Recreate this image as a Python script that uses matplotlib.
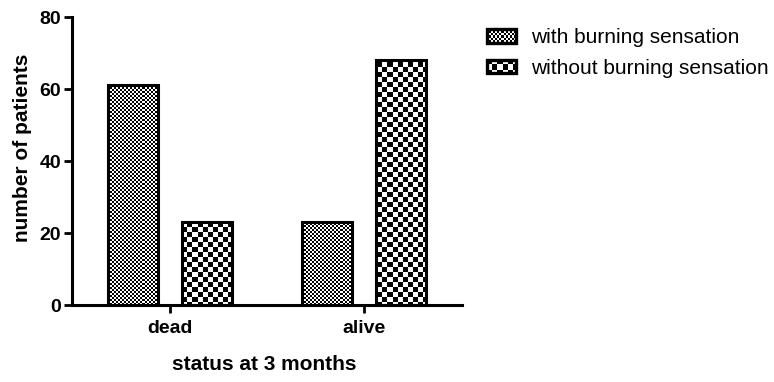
import numpy as np
import matplotlib.pyplot as plt
from matplotlib.legend_handler import HandlerBase
from matplotlib.image import BboxImage
from matplotlib.transforms import Bbox, TransformedBbox
from matplotlib.patches import Rectangle
from matplotlib.colors import Normalize

plt.rcParams['font.family'] = ['Liberation Sans', 'DejaVu Sans']

# данные
categories = ['dead', 'alive']
series_names = ['with burning sensation', 'without burning sensation']
with_burning = [61, 23]
without_burning = [23, 68]
yticks = [0, 20, 40, 60, 80]

checker_sizes = [2, 5]  # размер клетки шахматки, px


def checker(h, w, n):
    i, j = np.indices((h, w))
    return ((i // n + j // n) % 2).astype(float)


class CheckerHandler(HandlerBase):
    def __init__(self, n):
        super().__init__()
        self.n = n

    def create_artists(self, legend, orig_handle, xdescent, ydescent,
                       width, height, fontsize, trans):
        bb = TransformedBbox(Bbox.from_bounds(-xdescent, -ydescent, width, height), trans)
        img = BboxImage(bb, cmap='gray', interpolation='nearest',
                        norm=Normalize(vmin=0, vmax=1))
        img.set_data(checker(int(height * 100 / 72), int(width * 100 / 72), self.n))
        rect = Rectangle((-xdescent, -ydescent), width, height, facecolor='none',
                         edgecolor='black', linewidth=2.4, transform=trans)
        return [img, rect]


fig = plt.figure(figsize=(7.74, 3.82), dpi=100)
ax = fig.add_axes([72 / 774, 1 - 305 / 382, 390 / 774, 288 / 382])

x = np.arange(len(categories))
width = 0.26
offset = 0.19
xlim = (-0.505, 1.505)
ylim = (0, 80)

handles = []
for k, vals in enumerate([with_burning, without_burning]):
    pos = x + (offset if k else -offset)
    bars = ax.bar(pos, vals, width, facecolor='none', edgecolor='black',
                  linewidth=2.2, zorder=3, label=series_names[k])
    handles.append(bars)
    for b in bars:
        im = ax.imshow(checker(288, 390, checker_sizes[k]), cmap='gray',
                       vmin=0, vmax=1, interpolation='nearest', aspect='auto',
                       extent=(xlim[0], xlim[1], ylim[0], ylim[1]), zorder=2)
        im.set_clip_path(b)

ax.set_xlim(*xlim)
ax.set_ylim(*ylim)
ax.set_xticks(x)
ax.set_xticklabels(categories, fontsize=14, fontweight='bold')
ax.set_yticks(yticks)
ax.set_yticklabels([str(t) for t in yticks], fontsize=14, fontweight='bold')
ax.tick_params(axis='both', width=2, length=6, direction='out')
ax.tick_params(axis='x', pad=5)
ax.tick_params(axis='y', pad=2)
ax.spines['top'].set_visible(False)
ax.spines['right'].set_visible(False)
ax.spines['left'].set_linewidth(2.2)
ax.spines['bottom'].set_linewidth(2.2)
ax.set_ylabel('number of patients', fontsize=15, fontweight='bold')
ax.yaxis.set_label_coords(-0.103, 0.545)
ax.set_xlabel('status at 3 months', fontsize=15, fontweight='bold')
ax.xaxis.set_label_coords(0.494, -0.175)

fig.legend(handles, series_names, loc='upper left',
           bbox_to_anchor=(477 / 774, 1 - 18 / 382), frameon=False,
           fontsize=15, handlelength=1.39, handleheight=0.62,
           handletextpad=0.72, labelspacing=0.55, borderpad=0,
           handler_map={handles[0]: CheckerHandler(checker_sizes[0]),
                        handles[1]: CheckerHandler(checker_sizes[1])})

fig.savefig('out.png', dpi=100)
